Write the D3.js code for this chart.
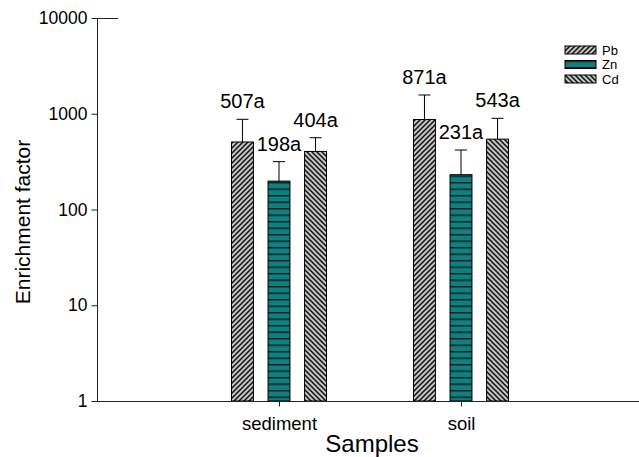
<!DOCTYPE html>
<html>
<head>
<meta charset="utf-8">
<script src="https://cdn.jsdelivr.net/npm/d3@7.9.0/dist/d3.min.js"></script>
<style>
  html, body { margin: 0; padding: 0; background: #fff; }
  svg { display: block; font-family: "Liberation Sans", Arial, sans-serif; }
</style>
</head>
<body>
<div id="chart"></div>
<script>
// chart values
const samples = ['sediment', 'soil'];
const metals = ['Pb', 'Zn', 'Cd'];
const pbMean = [507, 871];
const znMean = [198, 231];
const cdMean = [404, 543];
const pbErr = [368, 699];
const znErr = [118, 187];
const cdErr = [158, 353];
const yTicks = [1, 10, 100, 1000, 10000];

const width = 639;
const height = 457;
const svg = d3.select('#chart')
  .append('svg')
  .attr('width', width)
  .attr('height', height);

// hatch patterns
const defs = svg.append('defs');
function diag(id, dir) {
  const p = defs.append('pattern')
    .attr('id', id)
    .attr('patternUnits', 'userSpaceOnUse')
    .attr('width', 5).attr('height', 5);
  p.append('rect').attr('width', 5).attr('height', 5).attr('fill', '#c4c4c4');
  const d = dir > 0
    ? 'M-1,1 L1,-1 M0,5 L5,0 M4,6 L6,4'
    : 'M-1,4 L1,6 M0,0 L5,5 M4,-1 L6,1';
  p.append('path').attr('d', d).attr('stroke', '#111').attr('stroke-width', 1.5);
}
diag('hPb', 1);
diag('hCd', -1);
const pz = defs.append('pattern')
  .attr('id', 'hZn')
  .attr('patternUnits', 'userSpaceOnUse')
  .attr('width', 6).attr('height', 6.5);
pz.append('rect').attr('width', 6).attr('height', 6.5).attr('fill', '#0f7f7f');
pz.append('rect').attr('y', 0).attr('width', 6).attr('height', 1.4).attr('fill', '#0a1f1f');

const fills = { Pb: 'url(#hPb)', Zn: 'url(#hZn)', Cd: 'url(#hCd)' };

const rows = [];
samples.forEach((s, i) => {
  rows.push({ sample: s, metal: 'Pb', v: pbMean[i], e: pbErr[i] });
  rows.push({ sample: s, metal: 'Zn', v: znMean[i], e: znErr[i] });
  rows.push({ sample: s, metal: 'Cd', v: cdMean[i], e: cdErr[i] });
});

// scales
const x0 = d3.scalePoint().domain(samples).range([97, 643]).padding(1);
const x1 = d3.scaleBand().domain(metals).range([-47.5, 47.5]).paddingInner(0.4).paddingOuter(0);
const y = d3.scaleLog().domain([1, 10000]).range([401, 18]);

// bars
const g = svg.append('g');
g.selectAll('rect.bar')
  .data(rows)
  .join('rect')
  .attr('class', 'bar')
  .attr('x', d => x0(d.sample) + x1(d.metal))
  .attr('y', d => y(d.v))
  .attr('width', x1.bandwidth())
  .attr('height', d => y(1) - y(d.v))
  .attr('fill', d => fills[d.metal])
  .attr('stroke', '#000')
  .attr('stroke-width', 1);

// error bars (upper only)
const cx = d => x0(d.sample) + x1(d.metal) + x1.bandwidth() / 2;
g.selectAll('line.err')
  .data(rows)
  .join('line')
  .attr('x1', cx).attr('x2', cx)
  .attr('y1', d => y(d.v)).attr('y2', d => y(d.v + d.e))
  .attr('stroke', '#000');
g.selectAll('line.cap')
  .data(rows)
  .join('line')
  .attr('x1', d => cx(d) - 6).attr('x2', d => cx(d) + 6)
  .attr('y1', d => y(d.v + d.e)).attr('y2', d => y(d.v + d.e))
  .attr('stroke', '#000');

// value labels
g.selectAll('text.lbl')
  .data(rows)
  .join('text')
  .attr('x', cx)
  .attr('y', d => y(d.v + d.e) - 11)
  .attr('text-anchor', 'middle')
  .attr('font-size', 20)
  .attr('fill', '#000')
  .text(d => d.v + 'a');

// y axis
const yAxis = svg.append('g')
  .attr('transform', 'translate(97.5,0)')
  .call(d3.axisLeft(y).tickValues(yTicks).tickFormat(d3.format('d')).tickSize(6).tickPadding(4))
  .attr('font-family', null);
yAxis.select('.domain').attr('d', `M0,${y(10000)}V${y(1)}`).attr('stroke', '#222');
yAxis.selectAll('.tick line').attr('stroke', '#222');
yAxis.selectAll('.tick text').attr('font-size', 17.5).attr('fill', '#000');
svg.append('line')
  .attr('x1', 97.5).attr('x2', 118)
  .attr('y1', y(10000) + 0.5).attr('y2', y(10000) + 0.5)
  .attr('stroke', '#222');

// x axis
const xAxis = svg.append('g')
  .attr('transform', `translate(0,${y(1) + 0.5})`)
  .call(d3.axisBottom(x0).tickSize(5).tickPadding(10))
  .attr('font-family', null);
xAxis.select('.domain').attr('d', 'M97,0H639').attr('stroke', '#222');
xAxis.selectAll('.tick line').attr('stroke', '#222');
xAxis.selectAll('.tick text').attr('font-size', 18.5).attr('fill', '#000');

// axis titles
svg.append('text')
  .attr('transform', 'translate(30,222) rotate(-90)')
  .attr('text-anchor', 'middle')
  .attr('font-size', 21)
  .text('Enrichment factor');
svg.append('text')
  .attr('x', 372).attr('y', 452)
  .attr('text-anchor', 'middle')
  .attr('font-size', 24)
  .text('Samples');

// legend
const leg = svg.append('g').selectAll('g')
  .data(metals)
  .join('g')
  .attr('transform', (d, i) => `translate(565,${46 + i * 14.5})`);
leg.append('rect')
  .attr('width', 31).attr('height', 8)
  .attr('fill', d => fills[d])
  .attr('stroke', '#000');
leg.append('text')
  .attr('x', 37).attr('y', 8.5)
  .attr('font-size', 13)
  .text(d => d);
</script>
</body>
</html>
